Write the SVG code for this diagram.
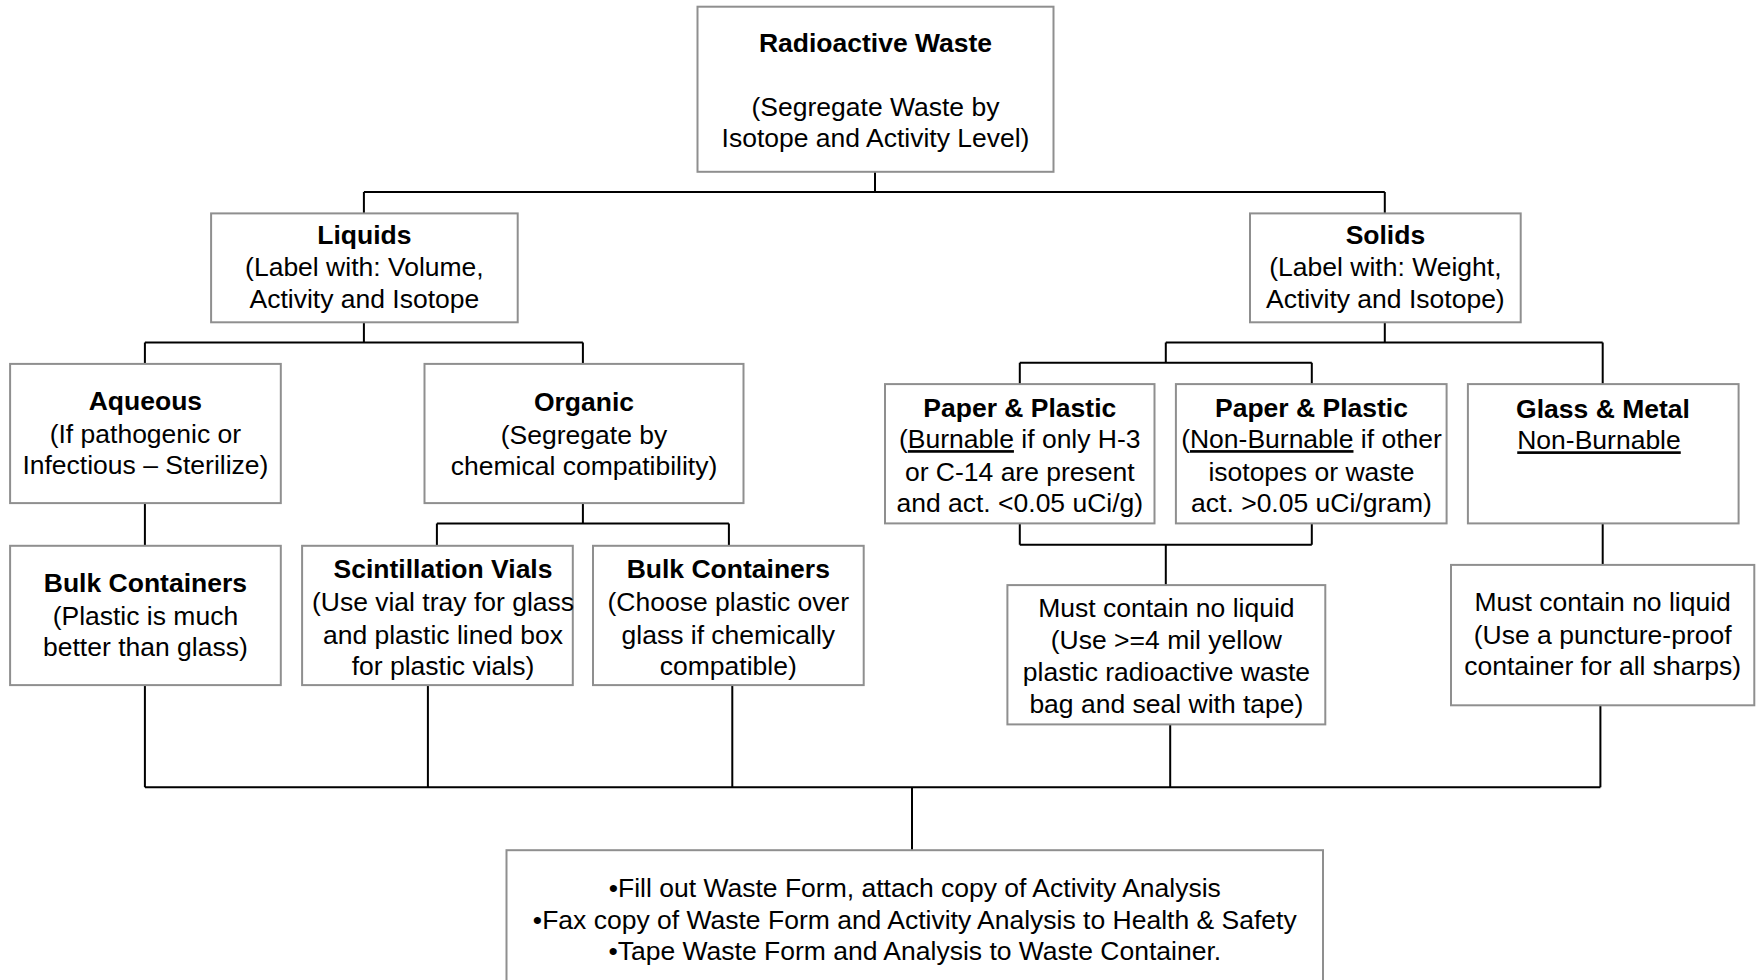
<svg xmlns="http://www.w3.org/2000/svg" width="1761" height="980" viewBox="0 0 1761 980">
<style>
  .box { fill: #ffffff; stroke: #8f8f8f; stroke-width: 2; }
  .t { font-family: "Liberation Sans", Arial, sans-serif; font-size: 26.5px; fill: #000; text-anchor: middle; }
  .b { font-weight: bold; }
  .u { text-decoration: underline; }
  .c { fill: none; stroke: #000; stroke-width: 2; }
</style>
<rect x="0" y="0" width="1761" height="980" fill="#ffffff"/>

<g id="connectors">
  <path class="c" d="M875,171.8 V192.1 M363.9,192.1 H1384.8 M363.9,192.1 V213.4 M1384.8,192.1 V213.4"/>
  <path class="c" d="M363.9,322.3 V342.5 M144.9,342.5 H582.9 M144.9,342.5 V363.9 M582.9,342.5 V363.9"/>
  <path class="c" d="M1384.8,322.3 V342.5 M1165.8,342.5 H1602.7 M1165.8,342.5 V362.8 M1019.8,362.8 H1311.8 M1019.8,362.8 V384.1 M1311.8,362.8 V384.1 M1602.7,342.5 V384.1"/>
  <path class="c" d="M144.9,503.1 V545.8"/>
  <path class="c" d="M582.9,503.1 V523.4 M436.9,523.4 H728.9 M436.9,523.4 V545.8 M728.9,523.4 V545.8"/>
  <path class="c" d="M1019.8,523.4 V544.7 M1311.8,523.4 V544.7 M1019.8,544.7 H1311.8 M1165.8,544.7 V585.1"/>
  <path class="c" d="M1602.7,523.4 V564.9"/>
  <path class="c" d="M144.9,685.1 V787.3 M427.9,685.1 V787.3 M732.3,685.1 V787.3 M1170.2,724.4 V787.3 M1600.4,705.3 V787.3 M144.9,787.3 H1600.4 M912,787.3 V850.2"/>
</g>

<g id="root">
  <rect class="box" x="697.5" y="6.7" width="356" height="165.1"/>
  <text class="t b" x="875.5" y="51.7">Radioactive Waste</text>
  <text class="t" x="875.5" y="115.7">(Segregate Waste by</text>
  <text class="t" x="875.5" y="147.1">Isotope and Activity Level)</text>
</g>

<g id="liquids">
  <rect class="box" x="211.1" y="213.4" width="306.6" height="108.9"/>
  <text class="t b" x="364.4" y="243.7">Liquids</text>
  <text class="t" x="364.4" y="276.3">(Label with: Volume,</text>
  <text class="t" x="364.4" y="307.7">Activity and Isotope</text>
</g>

<g id="solids">
  <rect class="box" x="1250" y="213.4" width="270.7" height="108.9"/>
  <text class="t b" x="1385.4" y="243.7">Solids</text>
  <text class="t" x="1385.4" y="276.3">(Label with: Weight,</text>
  <text class="t" x="1385.4" y="307.7">Activity and Isotope)</text>
</g>

<g id="aqueous">
  <rect class="box" x="10.1" y="363.9" width="270.7" height="139.2"/>
  <text class="t b" x="145.4" y="410">Aqueous</text>
  <text class="t" x="145.4" y="442.5">(If pathogenic or</text>
  <text class="t" x="145.4" y="474">Infectious – Sterilize)</text>
</g>

<g id="organic">
  <rect class="box" x="424.5" y="363.9" width="319" height="139.2"/>
  <text class="t b" x="584" y="411">Organic</text>
  <text class="t" x="584" y="443.6">(Segregate by</text>
  <text class="t" x="584" y="475">chemical compatibility)</text>
</g>

<g id="paper-burnable">
  <rect class="box" x="885" y="384.1" width="269.5" height="139.3"/>
  <text class="t b" x="1019.8" y="416.7">Paper &amp; Plastic</text>
  <text class="t" x="1019.8" y="448.1">(<tspan class="u">Burnable</tspan> if only H-3</text>
  <text class="t" x="1019.8" y="480.7">or C-14 are present</text>
  <text class="t" x="1019.8" y="512.1">and act. &lt;0.05 uCi/g)</text>
</g>

<g id="paper-nonburnable">
  <rect class="box" x="1175.9" y="384.1" width="270.7" height="139.3"/>
  <text class="t b" x="1311.5" y="416.7">Paper &amp; Plastic</text>
  <text class="t" x="1311.5" y="448.1">(<tspan class="u">Non-Burnable</tspan> if other</text>
  <text class="t" x="1311.5" y="480.7">isotopes or waste</text>
  <text class="t" x="1311.5" y="512.1">act. &gt;0.05 uCi/gram)</text>
</g>

<g id="glass-metal">
  <rect class="box" x="1467.9" y="384.1" width="270.7" height="139.3"/>
  <text class="t b" x="1603" y="417.8">Glass &amp; Metal</text>
  <text class="t u" x="1599" y="449.3">Non-Burnable</text>
</g>

<g id="bulk-aqueous">
  <rect class="box" x="10.1" y="545.8" width="270.7" height="139.3"/>
  <text class="t b" x="145.4" y="591.9">Bulk Containers</text>
  <text class="t" x="145.4" y="624.5">(Plastic is much</text>
  <text class="t" x="145.4" y="655.9">better than glass)</text>
</g>

<g id="scintillation">
  <rect class="box" x="302.1" y="545.8" width="270.7" height="139.3"/>
  <text class="t b" x="443" y="578.4">Scintillation Vials</text>
  <text class="t" x="443" y="611">(Use vial tray for glass</text>
  <text class="t" x="443" y="643.6">and plastic lined box</text>
  <text class="t" x="443" y="675">for plastic vials)</text>
</g>

<g id="bulk-organic">
  <rect class="box" x="593" y="545.8" width="270.7" height="139.3"/>
  <text class="t b" x="728.3" y="578.4">Bulk Containers</text>
  <text class="t" x="728.3" y="611">(Choose plastic over</text>
  <text class="t" x="728.3" y="643.6">glass if chemically</text>
  <text class="t" x="728.3" y="675">compatible)</text>
</g>

<g id="no-liquid-bag">
  <rect class="box" x="1007.4" y="585.1" width="317.9" height="139.3"/>
  <text class="t" x="1166.4" y="616.6">Must contain no liquid</text>
  <text class="t" x="1166.4" y="649.2">(Use &gt;=4 mil yellow</text>
  <text class="t" x="1166.4" y="680.6">plastic radioactive waste</text>
  <text class="t" x="1166.4" y="713.2">bag and seal with tape)</text>
</g>

<g id="no-liquid-sharps">
  <rect class="box" x="1451" y="564.9" width="303.3" height="140.4"/>
  <text class="t" x="1602.7" y="611">Must contain no liquid</text>
  <text class="t" x="1602.7" y="643.6">(Use a puncture-proof</text>
  <text class="t" x="1602.7" y="675">container for all sharps)</text>
</g>

<g id="final-steps">
  <rect class="box" x="506.5" y="850.2" width="816.5" height="150"/>
  <text class="t" x="914.8" y="897.4">•Fill out Waste Form, attach copy of Activity Analysis</text>
  <text class="t" x="914.8" y="928.8">•Fax copy of Waste Form and Activity Analysis to Health &amp; Safety</text>
  <text class="t" x="914.8" y="960.3">•Tape Waste Form and Analysis to Waste Container.</text>
</g>
</svg>
